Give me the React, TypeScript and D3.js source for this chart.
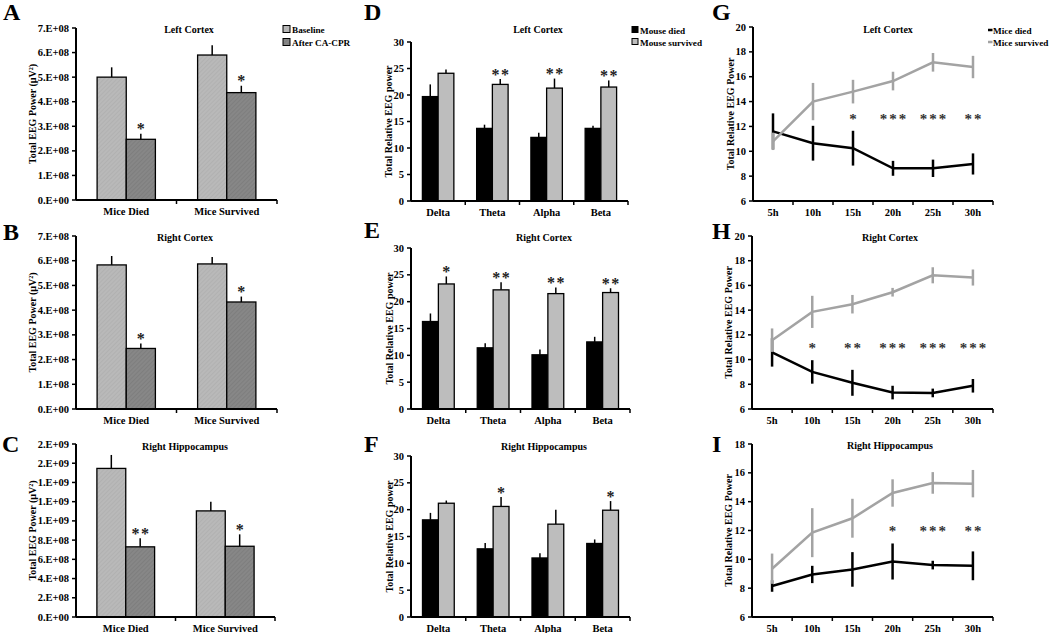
import React from 'react';
import * as d3 from 'd3';

const FONT = "'Liberation Serif', 'Times New Roman', serif";

// categories
const groups = ['Mice Died', 'Mice Survived'];
const bands = ['Delta', 'Theta', 'Alpha', 'Beta'];
const hours = ['5h', '10h', '15h', '20h', '25h', '30h'];

// tick labels
const e8Ticks = ['0.E+00', '1.E+08', '2.E+08', '3.E+08', '4.E+08', '5.E+08', '6.E+08', '7.E+08'];
const hippoTicks = ['0.E+00', '2.E+08', '4.E+08', '6.E+08', '8.E+08', '1.E+09', '1.E+09', '1.E+09', '2.E+09', '2.E+09'];
const relTicks = ['0', '5', '10', '15', '20', '25', '30'];
const cortexLineTicks = ['6', '8', '10', '12', '14', '16', '18', '20'];
const hippoLineTicks = ['6', '8', '10', '12', '14', '16', '18'];

// A - left cortex, total power
const aBaseline = [5.0e8, 5.9e8];
const aBaselineErr = [0.4e8, 0.4e8];
const aAfter = [2.47e8, 4.37e8];
const aAfterErr = [0.23e8, 0.28e8];
const aStars = ['*', '*'];
// B - right cortex
const bBaseline = [5.83e8, 5.87e8];
const bBaselineErr = [0.36e8, 0.28e8];
const bAfter = [2.45e8, 4.33e8];
const bAfterErr = [0.2e8, 0.22e8];
const bStars = ['*', '*'];
// C - right hippocampus
const cBaseline = [1.546e9, 1.104e9];
const cBaselineErr = [0.14e9, 0.096e9];
const cAfter = [7.3e8, 7.36e8];
const cAfterErr = [0.9e8, 1.24e8];
const cStars = ['**', '*'];

// D - left cortex, relative power by band
const dDied = [19.7, 13.7, 12.0, 13.7];
const dDiedErr = [2.3, 0.7, 0.9, 0.5];
const dSurv = [24.1, 22.0, 21.3, 21.5];
const dSurvErr = [0.7, 1.0, 1.8, 1.25];
const dStars = ['', '**', '**', '**'];
// E - right cortex
const eDied = [16.3, 11.4, 10.1, 12.5];
const eDiedErr = [1.5, 0.85, 1.0, 0.95];
const eSurv = [23.3, 22.2, 21.5, 21.7];
const eSurvErr = [1.4, 1.4, 1.15, 0.8];
const eStars = ['*', '**', '**', '**'];
// F - right hippocampus
const fDied = [18.1, 12.7, 11.0, 13.7];
const fDiedErr = [1.3, 1.1, 0.9, 0.75];
const fSurv = [21.2, 20.6, 17.3, 19.9];
const fSurvErr = [0.5, 1.75, 2.7, 1.7];
const fStars = ['', '*', '', '*'];

// G - left cortex over time
const gDied = [11.6, 10.65, 10.25, 8.63, 8.63, 8.98];
const gDiedErr = [1.45, 1.4, 1.4, 0.6, 0.7, 0.85];
const gSurv = [10.8, 14.0, 14.8, 15.65, 17.16, 16.78];
const gSurvErr = [0.7, 1.5, 0.95, 0.75, 0.75, 0.9];
const gStars = ['', '', '*', '***', '***', '**'];
// H - right cortex over time
const hDied = [10.58, 9.0, 8.12, 7.33, 7.3, 7.88];
const hDiedErr = [1.15, 0.95, 1.05, 0.55, 0.35, 0.55];
const hSurv = [11.57, 13.86, 14.48, 15.45, 16.82, 16.64];
const hSurvErr = [0.95, 1.3, 0.75, 0.35, 0.65, 0.65];
const hStars = ['', '*', '**', '***', '***', '***'];
// I - right hippocampus over time
const iDied = [8.15, 8.95, 9.3, 9.85, 9.6, 9.55];
const iDiedErr = [0.4, 0.6, 1.2, 1.25, 0.3, 1.0];
const iSurv = [9.35, 11.85, 12.85, 14.6, 15.3, 15.25];
const iSurvErr = [1.05, 1.7, 1.35, 0.95, 0.75, 0.95];
const iStars = ['', '', '', '*', '***', '**'];

type Series = { values: number[]; errs: number[]; stars?: string[] };

type Frame = {
  letter: string;
  letterX: number;
  letterY: number;
  title: string;
  titleX: number;
  titleY: number;
  yLabel: string;
  yLabelGap: number;
  x0: number;
  x1: number;
  yTop: number;
  yBot: number;
};

function Chrome({ f, tickLabels, y, xTicks }: { f: Frame; tickLabels: string[]; y: (i: number) => number; xTicks: number[] }) {
  const midY = (f.yTop + f.yBot) / 2;
  return (
    <g>
      <text x={f.letterX} y={f.letterY} fontSize={24} fontWeight="bold">{f.letter}</text>
      <text x={f.titleX} y={f.titleY} textAnchor="middle" fontSize={10} fontWeight="bold">{f.title}</text>
      <text
        transform={`translate(${f.x0 - f.yLabelGap + 3.5},${midY}) rotate(-90)`}
        textAnchor="middle"
        fontSize={10}
        fontWeight="bold"
      >
        {f.yLabel}
      </text>
      {tickLabels.map((t, i) => (
        <g key={i}>
          <line x1={f.x0 - 4} x2={f.x0} y1={y(i)} y2={y(i)} stroke="#000" strokeWidth={1.5} />
          <text x={f.x0 - 7} y={y(i) + 3.5} textAnchor="end" fontSize={10.5} fontWeight="bold">{t}</text>
        </g>
      ))}
      {xTicks.map((t, i) => (
        <line key={i} x1={t} x2={t} y1={f.yBot} y2={f.yBot + 4} stroke="#000" strokeWidth={1.5} />
      ))}
      <line x1={f.x0} x2={f.x0} y1={f.yTop} y2={f.yBot} stroke="#000" strokeWidth={2} />
      <line x1={f.x0} x2={f.x1} y1={f.yBot} y2={f.yBot} stroke="#000" strokeWidth={2} />
    </g>
  );
}

function BarPanel({ f, categories, series, fills, yMax, tickLabels }: {
  f: Frame; categories: string[]; series: Series[]; fills: string[]; yMax: number; tickLabels: string[];
}) {
  const x = d3.scaleBand().domain(categories).range([f.x0, f.x1]);
  const bw = x.bandwidth();
  const xs = d3.scaleBand<number>().domain(series.map((_, i) => i)).range([bw * 0.21, bw * 0.79]);
  const y = d3.scaleLinear().domain([0, yMax]).range([f.yBot, f.yTop]);
  const step = yMax / (tickLabels.length - 1);
  const xTicks = categories.map((c) => (x(c) as number) + bw);
  return (
    <g>
      {series.map((s, si) =>
        categories.map((c, ci) => {
          const bx = (x(c) as number) + (xs(si) as number);
          const top = y(s.values[ci]);
          const errTop = y(s.values[ci] + s.errs[ci]);
          const cx = bx + xs.bandwidth() / 2;
          return (
            <g key={`${si}-${ci}`}>
              <line x1={cx} x2={cx} y1={top} y2={errTop} stroke="#000" strokeWidth={1.5} />
              <rect x={bx} y={top} width={xs.bandwidth()} height={f.yBot - top} fill={fills[si]} stroke="#000" strokeWidth={1.3} />
              {s.stars && s.stars[ci] ? (
                <text x={cx + 0.8} y={errTop + 0.5} textAnchor="middle" fontSize={16} fontWeight="bold" letterSpacing={1.5} fill="#222">
                  {s.stars[ci]}
                </text>
              ) : null}
            </g>
          );
        })
      )}
      <Chrome f={f} tickLabels={tickLabels} y={(i) => y(i * step)} xTicks={xTicks} />
      {categories.map((c) => (
        <text key={c} x={(x(c) as number) + bw / 2} y={f.yBot + 15} textAnchor="middle" fontSize={10.5} fontWeight="bold">{c}</text>
      ))}
    </g>
  );
}

function LinePanel({ f, series, colors, yMin, yMax, tickLabels, starLevel }: {
  f: Frame; series: Series[]; colors: string[]; yMin: number; yMax: number; tickLabels: string[]; starLevel: number;
}) {
  const x = d3.scaleBand().domain(hours).range([f.x0, f.x1]);
  const bw = x.bandwidth();
  const y = d3.scaleLinear().domain([yMin, yMax]).range([f.yBot, f.yTop]);
  const step = (yMax - yMin) / (tickLabels.length - 1);
  const cx = (h: string) => (x(h) as number) + bw / 2;
  const line = d3.line<number>().x((_, i) => cx(hours[i])).y((d) => y(d));
  const xTicks = hours.map((h) => (x(h) as number) + bw);
  return (
    <g>
      {series.map((s, si) => (
        <g key={si}>
          <path d={line(s.values) || ''} fill="none" stroke={colors[si]} strokeWidth={2.5} />
          {s.values.map((v, i) => (
            <line
              key={i}
              x1={cx(hours[i])}
              x2={cx(hours[i])}
              y1={y(v - s.errs[i])}
              y2={y(v + s.errs[i])}
              stroke={colors[si]}
              strokeWidth={2.5}
            />
          ))}
        </g>
      ))}
      {series[0].stars?.map((st, i) =>
        st ? (
          <text key={i} x={cx(hours[i]) + 1} y={y(starLevel) + 7} textAnchor="middle" fontSize={15} fontWeight="bold" letterSpacing={2} fill="#333">
            {st}
          </text>
        ) : null
      )}
      <Chrome f={f} tickLabels={tickLabels} y={(i) => y(yMin + i * step)} xTicks={xTicks} />
      {hours.map((h) => (
        <text key={h} x={cx(h)} y={f.yBot + 15} textAnchor="middle" fontSize={10.5} fontWeight="bold">{h}</text>
      ))}
    </g>
  );
}

const powerLabel = 'Total EEG Power (µV²)';
const relLabel = 'Total Relative EEG power';
const relLineLabel = 'Total Relative EEG Power';

export default function App() {
  const hatchFills = ['url(#hatchLight)', 'url(#hatchDark)'];
  const solidFills = ['#000', '#bdbdbd'];
  const lineColors = ['#000', '#a3a3a3'];
  const mk = (letter: string, lx: number, ly: number, title: string, tx: number, ty: number, yLabel: string, gap: number,
    x0: number, x1: number, yTop: number, yBot: number): Frame => ({
    letter, letterX: lx, letterY: ly, title, titleX: tx, titleY: ty, yLabel, yLabelGap: gap, x0, x1, yTop, yBot,
  });
  return (
    <svg width={1050} height={633} style={{ position: 'absolute', left: 0, top: 0, background: '#fff' }} fontFamily={FONT}>
      <defs>
        <pattern id="hatchLight" width={3} height={3} patternUnits="userSpaceOnUse" patternTransform="rotate(45)">
          <rect width={3} height={3} fill="#b9b9b9" />
          <line x1={0} y1={0} x2={0} y2={3} stroke="#a9a9a9" strokeWidth={1} />
        </pattern>
        <pattern id="hatchDark" width={3} height={3} patternUnits="userSpaceOnUse" patternTransform="rotate(45)">
          <rect width={3} height={3} fill="#878787" />
          <line x1={0} y1={0} x2={0} y2={3} stroke="#767676" strokeWidth={1} />
        </pattern>
      </defs>
      <rect width={1050} height={633} fill="#fff" />

      <BarPanel
        f={mk('A', 3, 20, 'Left Cortex', 189, 32.5, powerLabel, 44, 76, 277, 28, 200)}
        categories={groups}
        series={[{ values: aBaseline, errs: aBaselineErr }, { values: aAfter, errs: aAfterErr, stars: aStars }]}
        fills={hatchFills}
        yMax={7e8}
        tickLabels={e8Ticks}
      />
      <BarPanel
        f={mk('B', 3, 240, 'Right Cortex', 185, 240.5, powerLabel, 44, 76, 277, 236, 409)}
        categories={groups}
        series={[{ values: bBaseline, errs: bBaselineErr }, { values: bAfter, errs: bAfterErr, stars: bStars }]}
        fills={hatchFills}
        yMax={7e8}
        tickLabels={e8Ticks}
      />
      <BarPanel
        f={mk('C', 2, 452, 'Right Hippocampus', 185, 449.5, powerLabel, 44, 76, 275, 444, 617)}
        categories={groups}
        series={[{ values: cBaseline, errs: cBaselineErr }, { values: cAfter, errs: cAfterErr, stars: cStars }]}
        fills={hatchFills}
        yMax={1.8e9}
        tickLabels={hippoTicks}
      />

      <BarPanel
        f={mk('D', 364, 20, 'Left Cortex', 538, 32.5, relLabel, 23, 411, 628, 42, 201)}
        categories={bands}
        series={[{ values: dDied, errs: dDiedErr }, { values: dSurv, errs: dSurvErr, stars: dStars }]}
        fills={solidFills}
        yMax={30}
        tickLabels={relTicks}
      />
      <BarPanel
        f={mk('E', 364, 238, 'Right Cortex', 544, 240.5, relLabel, 22, 411, 630, 248, 409)}
        categories={bands}
        series={[{ values: eDied, errs: eDiedErr }, { values: eSurv, errs: eSurvErr, stars: eStars }]}
        fills={solidFills}
        yMax={30}
        tickLabels={relTicks}
      />
      <BarPanel
        f={mk('F', 364, 452, 'Right Hippocampus', 544, 449.5, relLabel, 22, 411, 630, 456, 617)}
        categories={bands}
        series={[{ values: fDied, errs: fDiedErr }, { values: fSurv, errs: fSurvErr, stars: fStars }]}
        fills={solidFills}
        yMax={30}
        tickLabels={relTicks}
      />

      <LinePanel
        f={mk('G', 712, 20, 'Left Cortex', 888, 32.5, relLineLabel, 23, 753, 993, 27, 201)}
        series={[{ values: gDied, errs: gDiedErr, stars: gStars }, { values: gSurv, errs: gSurvErr }]}
        colors={lineColors}
        yMin={6}
        yMax={20}
        tickLabels={cortexLineTicks}
        starLevel={12.78}
      />
      <LinePanel
        f={mk('H', 712, 239, 'Right Cortex', 890, 240.5, relLineLabel, 24, 752, 993, 236, 409)}
        series={[{ values: hDied, errs: hDiedErr, stars: hStars }, { values: hSurv, errs: hSurvErr }]}
        colors={lineColors}
        yMin={6}
        yMax={20}
        tickLabels={cortexLineTicks}
        starLevel={11.1}
      />
      <LinePanel
        f={mk('I', 712, 452, 'Right Hippocampus', 890, 448.5, relLineLabel, 24, 752, 993, 444, 617)}
        series={[{ values: iDied, errs: iDiedErr, stars: iStars }, { values: iSurv, errs: iSurvErr }]}
        colors={lineColors}
        yMin={6}
        yMax={18}
        tickLabels={hippoLineTicks}
        starLevel={12.07}
      />

      {/* legends */}
      <g fontSize={9.2} fontWeight="bold">
        {['Baseline', 'After CA-CPR'].map((t, i) => (
          <g key={t}>
            <rect x={283} y={25.5 + i * 13} width={7} height={7} fill={hatchFills[i]} stroke="#000" strokeWidth={1} />
            <text x={292} y={32.5 + i * 13}>{t}</text>
          </g>
        ))}
        {['Mouse died', 'Mouse survived'].map((t, i) => (
          <g key={t}>
            <rect x={632} y={26.5 + i * 12} width={6} height={6} fill={solidFills[i]} stroke="#000" strokeWidth={1} />
            <text x={640} y={33.5 + i * 12}>{t}</text>
          </g>
        ))}
        {['Mice died', 'Mice survived'].map((t, i) => (
          <g key={t}>
            <line x1={988} x2={992.5} y1={30 + i * 12} y2={30 + i * 12} stroke={lineColors[i]} strokeWidth={2.5} />
            <text x={993} y={33.5 + i * 12}>{t}</text>
          </g>
        ))}
      </g>
    </svg>
  );
}
